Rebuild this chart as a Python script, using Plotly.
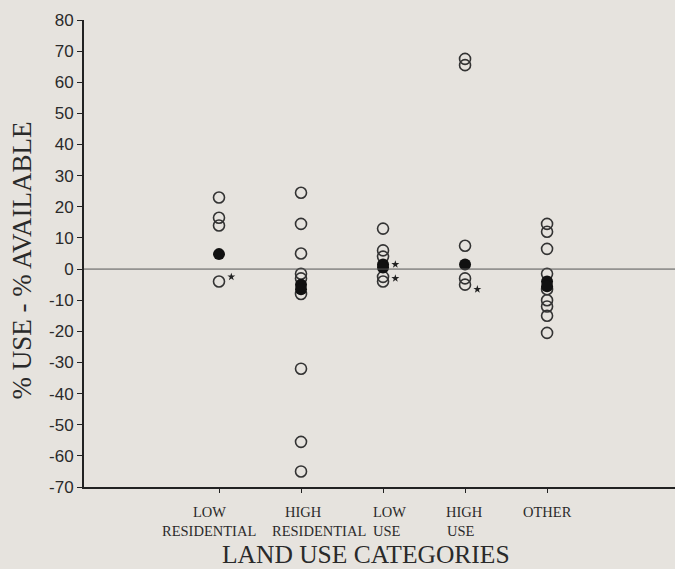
import plotly.graph_objects as go

categories = ["LOW<br>RESIDENTIAL", "HIGH<br>RESIDENTIAL", "LOW<br>USE", "HIGH<br>USE", "OTHER"]
label_line1 = ["LOW", "HIGH", "LOW", "HIGH", "OTHER"]
label_line2 = ["RESIDENTIAL", "RESIDENTIAL", "USE", "USE", ""]
cat_pos = [1, 2, 3, 4, 5]

# open circles (individual values) per category
open_vals = [
    [23, 16.5, 14, -4],
    [24.5, 14.5, 5, -1.5, -3, -8, -32, -55.5, -65],
    [13, 6, 4, -2.5, -4],
    [67.5, 65.5, 7.5, -3, -5],
    [14.5, 12, 6.5, -1.5, -6.5, -10, -12, -15, -20.5],
]
# filled circles (means)
filled_vals = [
    [4.8],
    [-5, -6.5],
    [1.5, 0.5],
    [1.5],
    [-4, -5.5],
]
# small star marks (offset beside category)
star_cat = [1, 3, 3, 4]
star_vals = [-2.5, 1.5, -3, -6.5]
star_offset = 0.15

yticks = list(range(-70, 81, 10))
ytick_text = [str(v) for v in yticks]

ox, oy = [], []
for p, vals in zip(cat_pos, open_vals):
    ox += [p] * len(vals)
    oy += vals
fx, fy = [], []
for p, vals in zip(cat_pos, filled_vals):
    fx += [p] * len(vals)
    fy += vals
sx = [c + star_offset for c in star_cat]

fig = go.Figure()
fig.add_trace(go.Scatter(x=ox, y=oy, mode="markers",
                         marker=dict(symbol="circle-open", size=11, color="#333",
                                     line=dict(width=1.6, color="#333"))))
fig.add_trace(go.Scatter(x=fx, y=fy, mode="markers",
                         marker=dict(symbol="circle", size=12, color="#111")))
fig.add_trace(go.Scatter(x=sx, y=star_vals, mode="markers",
                         marker=dict(symbol="star", size=6, color="#222")))

fig.add_hline(y=0, line=dict(color="#555", width=1))

serif = "Liberation Serif, Times New Roman, serif"
sans = "Liberation Sans, Arial, sans-serif"
txt = "#2a2a2a"

# category labels, two lines each (slight horizontal shifts as in the original)
shift1 = [-10, 2, 6, -1, 0]
shift2 = [-10, 18, 4, -4, 0]
for p, l1, l2, s1, s2 in zip(cat_pos, label_line1, label_line2, shift1, shift2):
    fig.add_annotation(x=p, y=0, xref="x", yref="paper", text=l1, showarrow=False,
                       xanchor="center", yanchor="middle", xshift=s1, yshift=-25,
                       font=dict(family=serif, size=14.5, color=txt))
    if l2:
        fig.add_annotation(x=p, y=0, xref="x", yref="paper", text=l2, showarrow=False,
                           xanchor="center", yanchor="middle", xshift=s2, yshift=-44,
                           font=dict(family=serif, size=14.5, color=txt))

fig.add_annotation(x=0.478, y=0, xref="paper", yref="paper", text="LAND USE CATEGORIES",
                   showarrow=False, xanchor="center", yanchor="middle", yshift=-67,
                   font=dict(family=serif, size=25.5, color=txt))
fig.add_annotation(x=0, y=0.485, xref="paper", yref="paper", text="% USE - % AVAILABLE",
                   showarrow=False, textangle=-90, xanchor="center", yanchor="middle",
                   xshift=-62, font=dict(family=serif, size=27, color=txt))

fig.update_layout(
    width=675, height=569,
    margin=dict(l=84, r=0, t=20, b=82),
    paper_bgcolor="#e6e3de", plot_bgcolor="#e6e3de",
    showlegend=False,
    xaxis=dict(range=[-0.646, 6.56], tickmode="array", tickvals=cat_pos,
               ticktext=[""] * len(categories),
               showgrid=False, zeroline=False, showline=True, linecolor="#222", linewidth=2,
               ticks="outside", ticklen=4, tickcolor="#222"),
    yaxis=dict(range=[-70, 80], tickmode="array", tickvals=yticks, ticktext=ytick_text,
               showgrid=False, zeroline=False, showline=True, linecolor="#222", linewidth=2,
               ticks="outside", ticklen=5, tickcolor="#222",
               tickfont=dict(family=sans, size=17, color=txt)),
)

fig.write_html("out.html", config={"displayModeBar": False},
               post_script="document.body.style.margin='0';document.body.style.background='#e6e3de';")
